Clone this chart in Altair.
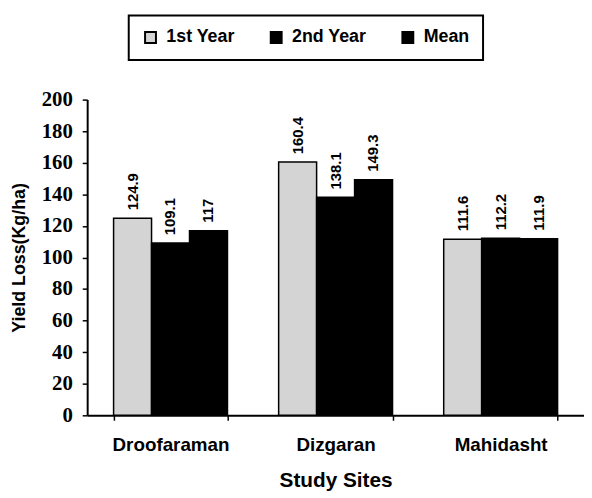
import altair as alt
import pandas as pd

sites = ["Droofaraman", "Dizgaran", "Mahidasht"]
series = ["1st Year", "2nd Year", "Mean"]
first_year = [124.9, 160.4, 111.6]
second_year = [109.1, 138.1, 112.2]
mean_vals = [117, 149.3, 111.9]
y_ticks = [0, 20, 40, 60, 80, 100, 120, 140, 160, 180, 200]

rows = []
for i, s in enumerate(sites):
    for name, vals in zip(series, [first_year, second_year, mean_vals]):
        rows.append({"site": s, "series": name, "value": vals[i]})
df = pd.DataFrame(rows)

x = alt.X("site:N", sort=sites, title="Study Sites",
          scale=alt.Scale(paddingInner=0.31, paddingOuter=0.16),
          axis=alt.Axis(labelAngle=0, labelFont="Liberation Sans", labelFontWeight="bold",
                        labelFontSize=19, labelColor="black", labelPadding=16,
                        titleFont="Liberation Sans", titleFontWeight="bold", titleFontSize=21,
                        titleColor="black", titlePadding=15,
                        domainColor="black", domainWidth=2, tickColor="black",
                        tickBand="extent", tickSize=5, tickWidth=1.5))

y = alt.Y("value:Q", title="Yield Loss(Kg/ha)",
          scale=alt.Scale(domain=[0, 200], nice=False),
          axis=alt.Axis(values=y_ticks, tickCount=11, grid=False, labelOverlap=False,
                        labelFont="Liberation Serif", labelFontWeight="bold",
                        labelFontSize=21, labelColor="black",
                        labelPadding=10, tickSize=5, tickColor="black", tickWidth=1.5,
                        domainColor="black", domainWidth=2,
                        titleFont="Liberation Sans", titleFontWeight="bold",
                        titleFontSize=18, titleColor="black", titlePadding=13))

base = alt.Chart(df).encode(
    x=x,
    y=y,
    xOffset=alt.XOffset("series:N", sort=series),
)

bars = base.mark_bar(stroke="black", strokeWidth=1.5).encode(
    color=alt.Color("series:N", sort=series,
                    scale=alt.Scale(domain=series, range=["#d4d4d4", "#000000", "#000000"]),
                    legend=alt.Legend(title=None, orient="none", direction="horizontal",
                                      legendX=42, legendY=-85,
                                      symbolType="square", symbolSize=121,
                                      symbolStrokeColor="black", symbolStrokeWidth=2,
                                      labelFont="Liberation Sans", labelFontWeight="bold",
                                      labelFontSize=18, labelColor="black", labelOffset=7,
                                      columnPadding=31, padding=13,
                                      strokeColor="black", fillColor="white")),
)

labels = base.mark_text(angle=270, align="left", baseline="middle", dx=8,
                        font="Liberation Sans", fontWeight="bold", fontSize=15,
                        color="black").encode(
    text=alt.Text("value:Q"),
)

chart = (bars + labels).properties(
    width=502, height=319,
    autosize=alt.AutoSizeParams(type="none"),
    padding={"left": 80, "top": 90, "right": 0, "bottom": 82},
).configure_view(stroke=None).configure_legend(strokeWidth=2)

chart.save("out.html", embed_options={"renderer": "svg", "actions": False})
